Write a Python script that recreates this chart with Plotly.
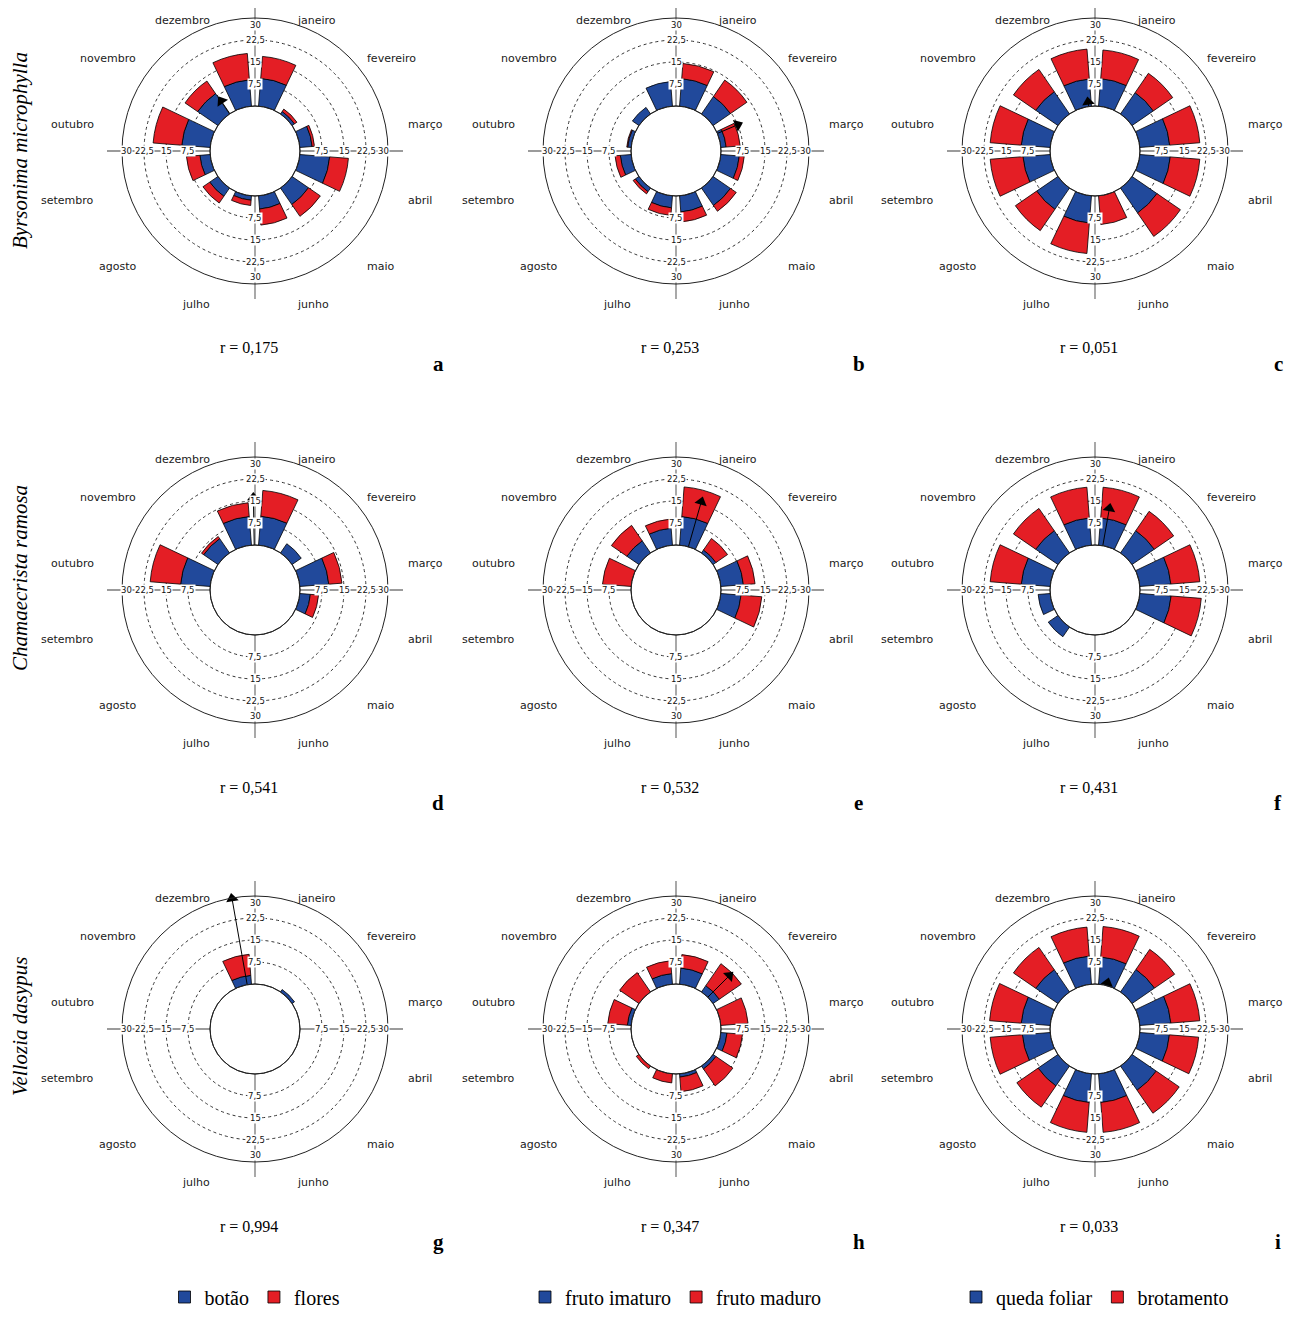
import math
import plotly.graph_objects as go

W, H = 1293, 1321
OFF = 8                      # default page (body) margin around the figure
FW, FH = W - 2 * OFF, H - 2 * OFF

# ---------------- data ----------------
MONTHS = ["janeiro", "fevereiro", "março", "abril", "maio", "junho",
          "julho", "agosto", "setembro", "outubro", "novembro", "dezembro"]
RADIAL_TICKS = [7.5, 15, 22.5, 30]
RADIAL_TICK_TEXT = ["7,5", "15", "22,5", "30"]
SPECIES = ["Byrsonima microphylla", "Chamaecrista ramosa", "Vellozia dasypus"]
PANEL_LETTERS = ["a", "b", "c", "d", "e", "f", "g", "h", "i"]
LEGEND_NAMES = [("botão", "flores"), ("fruto imaturo", "fruto maduro"),
                ("queda foliar", "brotamento")]

# Byrsonima microphylla
a_botao = [9.5, 1.0, 4.2, 10.2, 6.8, 4.5, 1.5, 3.4, 3.5, 9.7, 8.4, 9.0]
a_flores = [7.5, 1.0, 0.8, 6.4, 4.9, 5.5, 1.8, 2.8, 4.6, 9.8, 5.2, 9.0]
b_imaturo = [9.4, 7.2, 1.8, 6.3, 7.2, 5.5, 4.1, 1.5, 3.7, 1.2, 2.7, 8.4]
b_maduro = [5.2, 6.8, 4.8, 1.7, 2.4, 3.4, 2.6, 0.9, 1.8, 0.3, 0.0, 0.0]
c_queda = [9.4, 8.8, 10.2, 10.4, 10.3, 0.0, 9.3, 8.8, 9.3, 9.9, 9.2, 9.3]
c_brotamento = [9.8, 8.0, 10.3, 10.1, 9.7, 9.8, 10.4, 8.8, 11.2, 10.6, 9.2, 10.2]
# Chamaecrista ramosa
d_botao = [9.9, 3.8, 9.9, 3.6, 0.0, 0.0, 0.0, 0.0, 0.0, 10.1, 5.9, 9.8]
d_flores = [8.8, 0.0, 4.5, 2.8, 0.0, 0.0, 0.0, 0.0, 0.0, 10.4, 0.9, 4.7]
e_imaturo = [9.8, 1.2, 7.7, 6.9, 0.0, 0.0, 0.0, 0.0, 0.0, 0.0, 5.0, 5.8]
e_maduro = [10.1, 4.8, 4.0, 7.1, 0.0, 0.0, 0.0, 0.0, 0.0, 9.8, 6.4, 3.1]
f_queda = [9.3, 9.2, 10.6, 10.7, 0.0, 0.0, 0.0, 4.0, 4.1, 9.9, 9.2, 9.3]
f_brotamento = [10.5, 8.0, 9.9, 10.3, 0.0, 0.0, 0.0, 0.0, 0.0, 10.6, 9.2, 10.5]
# Vellozia dasypus
g_botao = [0.0, 1.0, 0.0, 0.0, 0.0, 0.0, 0.0, 0.0, 0.0, 0.0, 0.0, 3.0]
g_flores = [0.0, 0.0, 0.0, 0.0, 0.0, 0.0, 0.0, 0.0, 0.0, 0.0, 0.0, 7.2]
h_imaturo = [5.5, 2.6, 0.0, 2.1, 1.2, 1.1, 0.0, 0.0, 0.0, 1.3, 0.0, 3.6]
h_maduro = [4.6, 9.1, 9.3, 5.3, 7.0, 5.0, 3.1, 1.1, 0.0, 6.7, 8.0, 4.4]
i_queda = [9.3, 9.3, 10.6, 10.1, 10.0, 9.8, 9.8, 8.2, 9.5, 9.9, 9.2, 9.6]
i_brotamento = [10.4, 8.3, 9.9, 10.0, 9.5, 10.2, 10.2, 8.8, 11.0, 10.8, 9.2, 9.9]

# mean vector (r and mean angle in degrees, clockwise from north)
R_VALUES = [0.175, 0.253, 0.051, 0.541, 0.532, 0.431, 0.994, 0.347, 0.033]
MEAN_ANGLES = [326, 67, 352, 359, 16, 10, 350, 45, 15]

PANELS = [
    (a_botao, a_flores), (b_imaturo, b_maduro), (c_queda, c_brotamento),
    (d_botao, d_flores), (e_imaturo, e_maduro), (f_queda, f_brotamento),
    (g_botao, g_flores), (h_imaturo, h_maduro), (i_queda, i_brotamento),
]

# ---------------- style / layout ----------------
BLUE = "#21499b"
RED = "#e41e25"
R_PX = 133
HOLE_PX = 45
RMAX = 30
COL_X = [255, 676, 1095]
ROW_Y = [151, 590, 1029]
SANS = "DejaVu Sans"
SERIF = "Liberation Serif"

month_angles = [15 + 30 * k for k in range(len(MONTHS))]


def px(x):
    return (x - OFF) / FW


def py(y):
    return 1 - (y - OFF) / FH


fig = go.Figure()
shapes = []
annotations = []

for idx, (blue_vals, red_vals) in enumerate(PANELS):
    row, col = divmod(idx, 3)
    cx, cy = COL_X[col], ROW_Y[row]
    pname = "polar" if idx == 0 else f"polar{idx + 1}"
    legend_id = "legend" if col == 0 else f"legend{col + 1}"
    show = row == 0
    names = LEGEND_NAMES[col]

    fig.add_trace(go.Barpolar(
        r=blue_vals, theta=month_angles, width=21, name=names[0],
        marker=dict(color=BLUE, line=dict(color="black", width=0.8)),
        subplot=pname, showlegend=show, legend=legend_id,
    ))
    fig.add_trace(go.Barpolar(
        r=red_vals, theta=month_angles, width=21, name=names[1],
        marker=dict(color=RED, line=dict(color="black", width=0.8)),
        subplot=pname, showlegend=show, legend=legend_id,
    ))
    # mean vector arrow
    rv = R_VALUES[idx] * RMAX
    ang = MEAN_ANGLES[idx]
    fig.add_trace(go.Scatterpolar(
        r=[0, rv], theta=[ang, ang], mode="lines",
        line=dict(color="black", width=1), subplot=pname, showlegend=False,
        hoverinfo="skip",
    ))
    fig.add_trace(go.Scatterpolar(
        r=[rv], theta=[ang], mode="markers",
        marker=dict(symbol="triangle-up", size=11, color="black", angle=ang,
                    line=dict(width=0)),
        subplot=pname, showlegend=False, hoverinfo="skip",
    ))

    fig.layout[pname] = dict(
        domain=dict(x=[px(cx - R_PX), px(cx + R_PX)],
                    y=[py(cy + R_PX), py(cy - R_PX)]),
        hole=HOLE_PX / R_PX,
        bgcolor="rgba(0,0,0,0)",
        barmode="stack",
        radialaxis=dict(range=[0, RMAX], tickvals=RADIAL_TICKS[:-1],
                        showticklabels=False, ticks="", showline=False,
                        gridcolor="#333333", griddash="dot", gridwidth=0.9),
        angularaxis=dict(rotation=90, direction="clockwise",
                         tickvals=month_angles, ticktext=MONTHS,
                         showticklabels=False,
                         showgrid=False, showline=True, linecolor="#222222",
                         linewidth=1, ticks=""),
    )

    # month labels around the circle
    for m, a in zip(MONTHS, month_angles):
        s, c = math.sin(math.radians(a)), math.cos(math.radians(a))
        rho_x = 156 if s > 0 else 165
        annotations.append(dict(
            x=px(cx + rho_x * s), y=py(cy - 147.5 * c + 11.5),
            xref="paper", yref="paper", text=m, showarrow=False,
            font=dict(family=SANS, size=11, color="#1a1a1a"),
            xanchor="left" if s > 0 else "right", yanchor="middle",
        ))

    # cross lines (outside the hole)
    L = 148
    for dx, dy in [(1, 0), (-1, 0), (0, 1), (0, -1)]:
        shapes.append(dict(
            type="line", xref="paper", yref="paper", layer="below",
            x0=px(cx + dx * HOLE_PX), y0=py(cy + dy * HOLE_PX),
            x1=px(cx + dx * L), y1=py(cy + dy * L),
            line=dict(color="#7a7a7a", width=1.3),
        ))
    # hole outline
    shapes.append(dict(
        type="circle", xref="paper", yref="paper", layer="below",
        x0=px(cx - HOLE_PX), x1=px(cx + HOLE_PX),
        y0=py(cy + HOLE_PX), y1=py(cy - HOLE_PX),
        line=dict(color="#222222", width=1),
    ))

    # radial tick labels on the four half-axes
    for v, t in zip(RADIAL_TICKS, RADIAL_TICK_TEXT):
        d = HOLE_PX + (R_PX - HOLE_PX) * v / RMAX
        for dx, dy in [(1, 0), (-1, 0), (0, 1), (0, -1)]:
            dd = d - ((4 if dx else 7) if v == RMAX else 0)
            annotations.append(dict(
                x=px(cx + dx * dd), y=py(cy + dy * dd), xref="paper",
                yref="paper", text=t, showarrow=False,
                font=dict(family=SANS, size=8.5, color="#111111"),
                bgcolor="white", borderpad=0, xanchor="center",
                yanchor="middle",
            ))

    # r value and panel letter
    annotations.append(dict(
        x=px(cx - 6), y=py(cy + 197), xref="paper", yref="paper",
        text="r = " + f"{R_VALUES[idx]:.3f}".replace(".", ","),
        showarrow=False, font=dict(family=SERIF, size=16, color="black"),
        xanchor="center", yanchor="middle",
    ))
    annotations.append(dict(
        x=px(cx + 183), y=py(cy + 213), xref="paper", yref="paper",
        text="<b>" + PANEL_LETTERS[idx] + "</b>", showarrow=False,
        font=dict(family=SERIF, size=21, color="black"),
        xanchor="center", yanchor="middle",
    ))

# species labels
for row, sp in enumerate(SPECIES):
    annotations.append(dict(
        x=px(20), y=py(ROW_Y[row] + [0, -12, -2][row]), xref="paper",
        yref="paper", text="<i>" + sp + "</i>", textangle=-90,
        showarrow=False, font=dict(family=SERIF, size=21, color="black"),
        xanchor="center", yanchor="middle",
    ))

legend_common = dict(
    orientation="h", xanchor="center", yanchor="middle", y=py(1297),
    bgcolor="rgba(0,0,0,0)", font=dict(family=SERIF, size=20, color="black"),
    itemwidth=30, tracegroupgap=0,
)

fig.update_layout(
    width=FW, height=FH,
    margin=dict(l=0, r=0, t=0, b=0, autoexpand=False),
    paper_bgcolor="white",
    template="none",
    shapes=shapes,
    annotations=annotations,
    legend=dict(x=px(COL_X[0]), **legend_common),
    legend2=dict(x=px(COL_X[1]), **legend_common),
    legend3=dict(x=px(COL_X[2]), **legend_common),
)

fig.write_html("out.html")
